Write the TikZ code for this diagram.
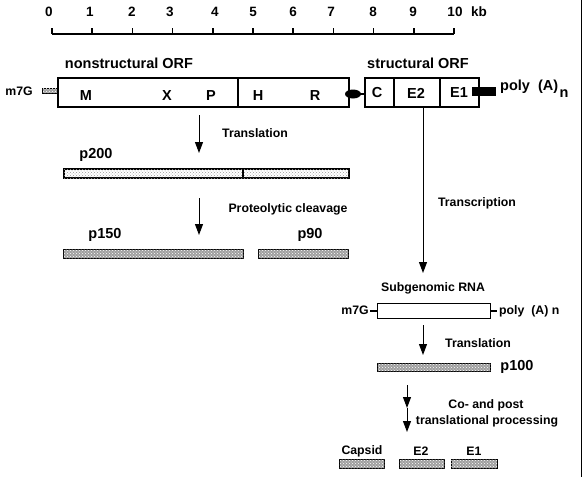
\documentclass[tikz,border=0pt]{standalone}
\usepackage{fontspec}
\setmainfont{Liberation Sans}
\usetikzlibrary{arrows.meta,patterns}
\begin{document}
\begin{tikzpicture}[x=1pt,y=-1pt,
  lab/.style={font=\fontsize{12.3}{14}\selectfont\bfseries, inner sep=0},
  big/.style={font=\fontsize{14.5}{16}\selectfont\bfseries, inner sep=0},
  ticklab/.style={font=\fontsize{13.5}{15}\selectfont\bfseries, inner sep=0},
  orf/.style={draw, line width=1.7pt, fill=white, inner sep=0, anchor=north west, minimum height=29pt},
  hatchbar/.style={draw, line width=0.9pt, fill=gray!75, postaction={pattern=crosshatch dots, pattern color=white}, inner sep=0, anchor=north west},
  lightbar/.style={draw, line width=2.4pt, fill=white, postaction={pattern=crosshatch dots, pattern color=gray!80}, inner sep=0, anchor=north west},
  arr/.style={line width=1pt, -{Triangle[width=8pt,length=11pt]}}
]
\useasboundingbox (0,0) rectangle (583,477);
\draw[line width=1pt] (581,0) -- (581,477);

% scale
\draw[line width=1.5pt] (52,34) -- (454,34);
\foreach \i in {0,...,10} { \draw[line width=1.5pt] ({52+40.2*\i},28) -- ({52+40.2*\i},34); }
\foreach \x/\t in {49/0,90/1,132/2,170/3,215/4,253/5,293/6,331/7,373/8,413/9,455/10,479/kb}
  \node[ticklab] at (\x,12) {\t};

% genome
\node[big] (nsorf) at (129,63) {nonstructural ORF};
\node[big] (sorf) at (418,63) {structural ORF};
\node[lab] (cap) at (19,91) {m7G};
\node[hatchbar, line width=0.5pt, minimum width=15pt, minimum height=5pt] (capbox) at (42,88) {};
\node[orf, minimum width=180pt] (ns1) at (57,77) {};
\node[orf, minimum width=111pt] (ns2) at (237,77) {};
\node[orf, minimum width=29pt] (sC) at (364,77) {};
\node[orf, minimum width=46pt] (sE2) at (393,77) {};
\node[orf, minimum width=39pt] (sE1) at (439,77) {};
\foreach \x/\t in {86/M,167/X,211/P,258/H,315/R} \node[big] at (\x,96) {\t};
\foreach \x/\t in {377/C,416/E2,459/E1} \node[big] at (\x,93) {\t};
\draw[line width=2pt] (ns2.east |- 0,94) -- (sC.west |- 0,94);
\fill (353,94) ellipse [x radius=8pt, y radius=4.5pt];
\fill (472,87) rectangle (496,96);
\node[big, anchor=west] (polyA) at (500,87) {poly\ \ (A)};
\node[big] (polyn) at (564,94) {n};

% nonstructural processing
\coordinate (a1s) at (199,115); \coordinate (a1e) at (199,153);
\draw[arr] (a1s) -- (a1e);
\node[lab] (tr1) at (255,133) {Translation};
\node[big] (p200l) at (96,155) {p200};
\node[lightbar, minimum width=285pt, minimum height=9pt] (p200) at (63,168) {};
\draw[line width=1.5pt] (243,168) -- (243,177);
\coordinate (a2s) at (199,198); \coordinate (a2e) at (199,235);
\draw[arr] (a2s) -- (a2e);
\node[lab] (pc) at (288,209) {Proteolytic cleavage};
\node[big] (p150l) at (105,235) {p150};
\node[big] (p90l) at (310,235) {p90};
\node[hatchbar, minimum width=180pt, minimum height=9pt] (p150) at (63,249) {};
\node[hatchbar, minimum width=90pt, minimum height=9pt] (p90) at (258,249) {};

% structural processing
\coordinate (a3s) at (423,107); \coordinate (a3e) at (423,273);
\draw[arr] (a3s) -- (a3e);
\node[lab] (tc) at (477,203) {Transcription};
\node[lab] (sg) at (433,288) {Subgenomic RNA};
\node[draw, line width=0.9pt, fill=white, inner sep=0, anchor=north west, minimum width=113pt, minimum height=15pt] (sgrna) at (377,303) {};
\draw[line width=2.6pt] (370,311) -- (sgrna.west |- 0,311);
\draw[line width=2.6pt] (sgrna.east |- 0,311) -- (497,311);
\node[lab] (sgcap) at (355,310) {m7G};
\node[lab, anchor=west] (sgpoly) at (499,311) {poly\ \ (A) n};
\coordinate (a4s) at (423,325); \coordinate (a4e) at (423,355);
\draw[arr] (a4s) -- (a4e);
\node[lab] (tr2) at (478,343) {Translation};
\node[hatchbar, minimum width=113pt, minimum height=8pt] (p100) at (377,363) {};
\node[big] (p100l) at (517,367) {p100};
\coordinate (a5s) at (407,385); \coordinate (a5m) at (407,408); \coordinate (a5e) at (407,432);
\draw[arr] (a5s) -- (a5m);
\draw[arr] (a5m) -- (a5e);
\node[lab] (co) at (486,405) {Co- and post};
\node[lab] (tp) at (487,421) {translational processing};
\node[lab] (capsidl) at (362,451) {Capsid};
\node[lab] (e2l) at (421,451) {E2};
\node[lab] (e1l) at (474,451) {E1};
\node[hatchbar, minimum width=45pt, minimum height=9pt] (capsid) at (339,459) {};
\node[hatchbar, minimum width=45pt, minimum height=9pt] (e2) at (399,459) {};
\node[hatchbar, minimum width=46pt, minimum height=9pt] (e1) at (451,459) {};
\end{tikzpicture}
\end{document}
